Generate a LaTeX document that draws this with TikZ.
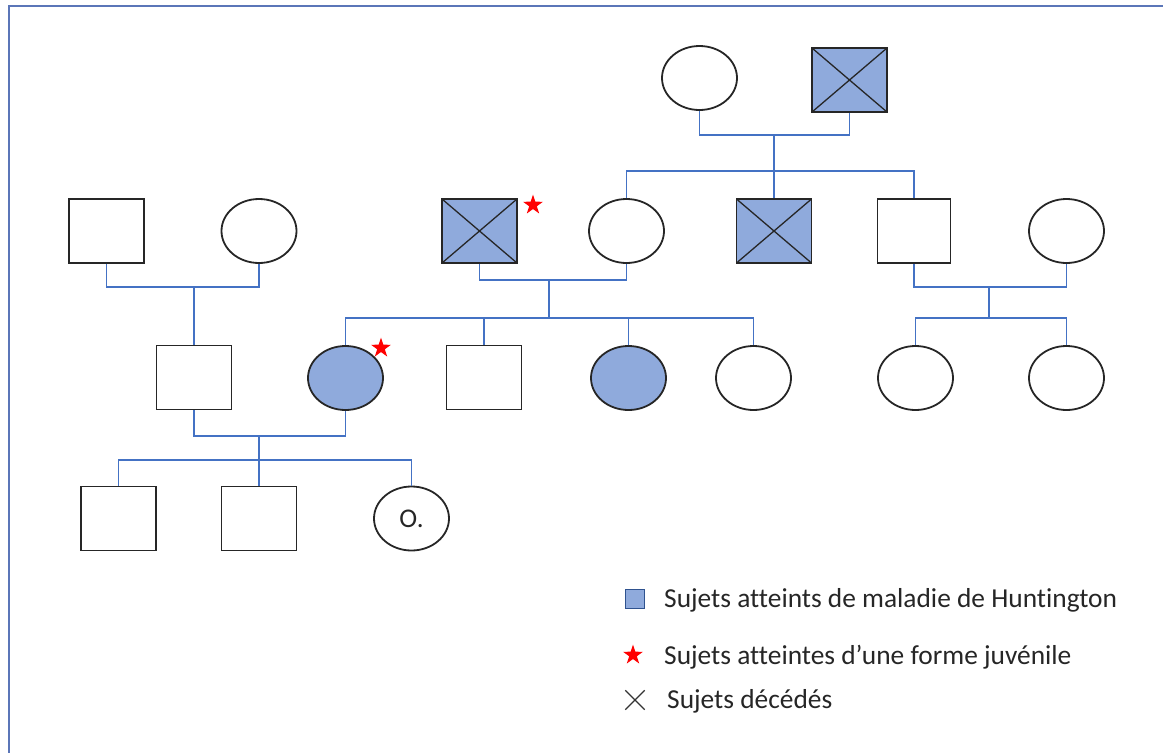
\documentclass[tikz,border=0pt]{standalone}
\usepackage{fontspec}
\setmainfont[Ligatures=NoCommon]{Carlito}
\usetikzlibrary{shapes.geometric}
\definecolor{conn}{HTML}{4472C4}
\definecolor{aff}{HTML}{8FAADC}
\definecolor{framec}{HTML}{5B76B8}
\definecolor{legb}{HTML}{2F528F}
\begin{document}
\begin{tikzpicture}[x=1pt,y=-1pt,
 person/.style={draw=black!85, line width=1.8pt, minimum width=75pt, minimum height=64pt, inner sep=0pt},
 male/.style={person, rectangle},
 female/.style={person, ellipse},
 affected/.style={fill=aff},
 deceased/.style={path picture={\draw[black!85,line width=1.3pt] (path picture bounding box.north west)--(path picture bounding box.south east) (path picture bounding box.north east)--(path picture bounding box.south west);}},
 link/.style={draw=conn, line width=1.9pt},
 juv/.style={star, star points=5, star point ratio=2.6, fill=red, minimum size=21pt, inner sep=0pt},
 legend/.style={anchor=base west, font=\fontsize{27.4}{32}\selectfont, text=black!85, inner sep=0pt}
]
\useasboundingbox (0,0) rectangle (1163,753);
\draw[framec, line width=2.8pt] (9,780) -- (9,6) -- (1190,6);

% Generation I
\node[female] (g1f) at (699.5,78) {};
\node[male,affected,deceased] (g1m) at (849.5,80) {};

% Generation II
\node[male] (a1) at (106.5,231) {};
\node[female] (a2) at (259,231) {};
\node[male,affected,deceased] (b1) at (479.5,231) {};
\node[female] (b2) at (626.5,231) {};
\node[male,affected,deceased] (b3) at (774,231) {};
\node[male, minimum width=73pt] (b4) at (914,231) {};
\node[female] (b5) at (1066.5,231) {};

% Generation III
\node[male] (c1) at (194,377.5) {};
\node[female,affected] (c2) at (345.5,378) {};
\node[male] (c3) at (484,377.5) {};
\node[female,affected] (c4) at (628.5,378) {};
\node[female] (c5) at (753.5,378) {};
\node[female] (c6) at (915.5,378) {};
\node[female] (c7) at (1066.5,378) {};

% Generation IV
\node[male] (d1) at (118.5,518.5) {};
\node[male] (d2) at (259,518.5) {};
\node[female, font=\fontsize{27}{32}\selectfont, text=black!85] (d3) at (411.5,518.5) {O.};

% juvenile stars
\node[juv] (j1) at (533,205) {};
\node[juv] (j2) at (381,348) {};

% connectors
\coordinate (m1) at (774,135);
\coordinate (s1) at (774,171);
\draw[link] (g1f.south) |- (m1) -| (g1m.south);
\draw[link] (m1) -- (b3.north);
\draw[link] (b2.north) |- (s1) -| (b4.north);

\coordinate (m2) at (194,287);
\draw[link] (a1.south) |- (m2) -| (a2.south);
\draw[link] (m2) -- (c1.north);

\coordinate (m3) at (549,280);
\coordinate (s3) at (549,318);
\draw[link] (b1.south) |- (m3) -| (b2.south);
\draw[link] (m3) -- (s3);
\draw[link] (c2.north) |- (s3) -| (c5.north);
\draw[link] (c3.north) -- (c3.north |- s3);
\draw[link] (c4.north) -- (c4.north |- s3);

\coordinate (m4) at (989,287);
\coordinate (s4) at (989,318);
\draw[link] (b4.south) |- (m4) -| (b5.south);
\draw[link] (m4) -- (s4);
\draw[link] (c6.north) |- (s4) -| (c7.north);

\coordinate (m5) at (259,436);
\coordinate (s5) at (259,460);
\draw[link] (c1.south) |- (m5) -| (c2.south);
\draw[link] (m5) -- (d2.north);
\draw[link] (d1.north) |- (s5) -| (d3.north);

% legend
\node[draw=legb, fill=aff, line width=1pt, minimum size=19pt, inner sep=0pt] (L1) at (634.5,598.5) {};
\node[legend] (L1t) at (664,607) {Sujets atteints de maladie de Huntington};
\node[juv] (L2) at (633,655) {};
\node[legend] (L2t) at (664,664) {Sujets atteintes d’une forme juvénile};
\node[minimum size=19pt, inner sep=0pt] (L3) at (635,700) {};
\draw[black!80, line width=1.3pt] (L3.north west) -- (L3.south east) (L3.north east) -- (L3.south west);
\node[legend] (L3t) at (667,708) {Sujets décédés};
\end{tikzpicture}
\end{document}
